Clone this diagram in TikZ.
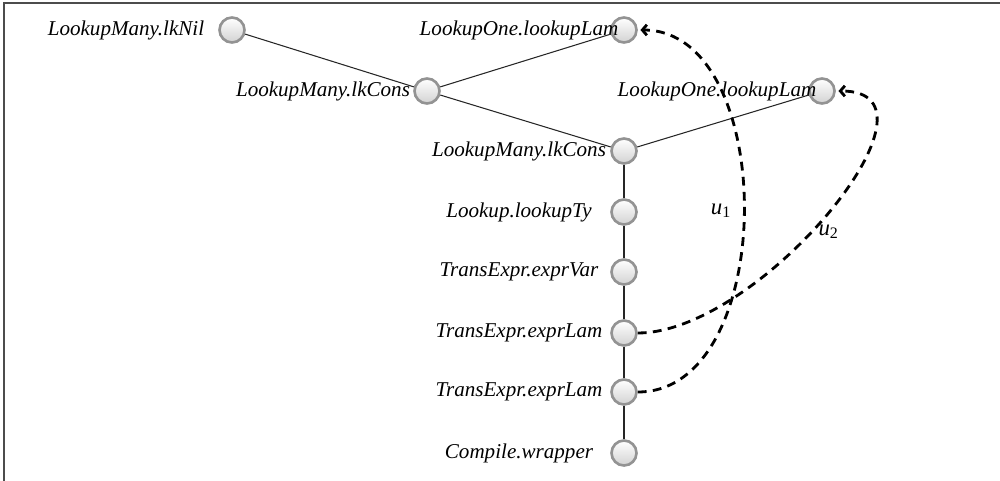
\documentclass[tikz,border=0pt]{standalone}
\usepackage{fontspec}
\setmainfont{Liberation Serif}
\usetikzlibrary{arrows.meta, calc}
\tikzset{
  site/.style={
    circle, minimum size=0.5cm, inner sep=0pt, draw=gray!85, line width=1.5pt,
    top color=white, bottom color=gray!35
  },
  lbl/.style={
    font=\fontsize{12}{14}\selectfont\itshape, inner sep=0pt
  },
  tree/.style={
    line width=0.6pt, color=black!85
  },
  dep/.style={
    -{Straight Barb[length=2.6pt,width=6pt]}, line width=1.6pt,
    dash pattern=on 5pt off 3.6pt, shorten >=1.5pt
  }
}

\begin{document}
\begin{tikzpicture}[x=0.02cm, y=-0.02cm]
      \useasboundingbox (0,0) rectangle (1000,480);
      \clip (0,0) rectangle (1000,480);

      % Frame
      \draw[line width=1.2pt, gray!60!black] (4,3) rectangle (1020,500);

      % Call sites (circles)
      \node[site] (nil)      at (232,30)  {};
      \node[site] (lam1)     at (624,30)  {};
      \node[site] (cons1)    at (427,91)  {};
      \node[site] (lam2)     at (822,91)  {};
      \node[site] (cons2)    at (624,151) {};
      \node[site] (lookupty) at (624,212) {};
      \node[site] (exprvar)  at (624,272) {};
      \node[site] (exprlam1) at (624,333) {};
      \node[site] (exprlam2) at (624,392) {};
      \node[site] (wrapper)  at (624,453) {};

      % Labels, centered left of each circle
      \node[lbl] (nil-l)      at ($(nil)+(-106,0)$)      {LookupMany.lkNil};
      \node[lbl] (lam1-l)     at ($(lam1)+(-105,0)$)     {LookupOne.lookupLam};
      \node[lbl] (cons1-l)    at ($(cons1)+(-104,0)$)    {LookupMany.lkCons};
      \node[lbl] (lam2-l)     at ($(lam2)+(-105,0)$)     {LookupOne.lookupLam};
      \node[lbl] (cons2-l)    at ($(cons2)+(-105,0)$)    {LookupMany.lkCons};
      \node[lbl] (lookupty-l) at ($(lookupty)+(-105,0)$) {Lookup.lookupTy};
      \node[lbl] (exprvar-l)  at ($(exprvar)+(-105,0)$)  {TransExpr.exprVar};
      \node[lbl] (exprlam1-l) at ($(exprlam1)+(-105,0)$) {TransExpr.exprLam};
      \node[lbl] (exprlam2-l) at ($(exprlam2)+(-105,0)$) {TransExpr.exprLam};
      \node[lbl] (wrapper-l)  at ($(wrapper)+(-105,0)$)  {Compile.wrapper};

      % Tree edges
      \draw[tree] (nil) -- (cons1);
      \draw[tree] (cons1) -- (lam1);
      \draw[tree] (cons1) -- (cons2);
      \draw[tree] (cons2) -- (lam2);
      \draw[tree] (cons2) -- (lookupty) -- (exprvar) -- (exprlam1) -- (exprlam2) -- (wrapper);

      % Dependency arcs
      \draw[dep] (exprlam2) to[out=0, in=0]
        node[pos=0.5, left=3pt, font=\fontsize{13}{15}\selectfont] {\textit{u}\textsubscript{1}} (lam1);
      \draw[dep] (exprlam1) to[out=0, in=0]
        node[pos=0.5, below=3pt, font=\fontsize{13}{15}\selectfont] {\textit{u}\textsubscript{2}} (lam2);
\end{tikzpicture}
\end{document}
